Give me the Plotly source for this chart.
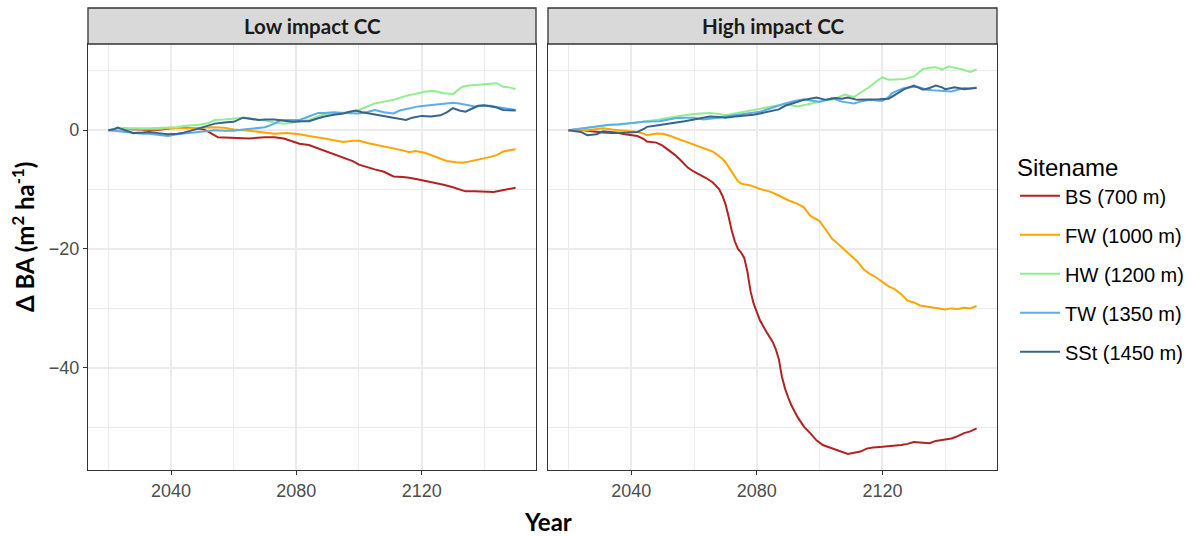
import plotly.graph_objects as go

# ---------------- data ----------------
site_names = ["BS (700 m)", "FW (1000 m)", "HW (1200 m)", "TW (1350 m)", "SSt (1450 m)"]
site_colors = ["#B22222", "#FFA500", "#90EE90", "#5CACEE", "#36648B"]
panel_titles = ["Low impact CC", "High impact CC"]
x_tick_vals = [2040, 2080, 2120]
x_tick_text = ["2040", "2080", "2120"]
y_tick_vals = [0, -20, -40]
y_tick_text = ["0", "\u221220", "\u221240"]

# Low impact CC
low_bs_years = [2020, 2025, 2030, 2035, 2040, 2045, 2050, 2052, 2055, 2060, 2065, 2070, 2073, 2076, 2079, 2081,
                2084, 2087, 2089, 2092, 2095, 2098, 2100, 2103, 2105, 2108, 2111, 2114, 2116, 2119, 2121, 2124,
                2127, 2130, 2132, 2134, 2137, 2140, 2143, 2145, 2147, 2150]
low_bs_vals = [0, 0.2, 0.1, 0.0, 0.3, 0.4, 0.2, -0.3, -1.2, -1.3, -1.4, -1.2, -1.2, -1.4, -1.9, -2.3,
               -2.5, -3.1, -3.4, -4.0, -4.6, -5.2, -5.8, -6.3, -6.6, -7.0, -7.8, -7.9, -8.0, -8.3, -8.5, -8.8,
               -9.2, -9.6, -9.9, -10.3, -10.3, -10.3, -10.4, -10.2, -10.0, -9.7]

low_fw_years = [2020, 2025, 2030, 2035, 2040, 2045, 2050, 2053, 2057, 2060, 2065, 2070, 2073, 2077, 2081, 2084,
                2087, 2089, 2092, 2095, 2098, 2100, 2103, 2105, 2108, 2111, 2114, 2116, 2118, 2121, 2123, 2126,
                2128, 2131, 2133, 2135, 2137, 2140, 2142, 2144, 2146, 2148, 2150]
low_fw_vals = [0, 0.3, 0.2, 0.1, 0.4, 0.3, 0.4, 0.5, 0.4, 0.1, -0.1, -0.4, -0.6, -0.5, -0.7, -1.0,
               -1.2, -1.4, -1.7, -2.0, -1.8, -1.8, -2.2, -2.4, -2.7, -3.1, -3.4, -3.7, -3.5, -3.8, -4.2, -4.7,
               -5.2, -5.4, -5.5, -5.3, -5.1, -4.8, -4.5, -4.2, -3.6, -3.4, -3.2]

low_hw_years = [2020, 2024, 2028, 2033, 2036, 2039, 2042, 2044, 2047, 2049, 2052, 2054, 2057, 2060, 2063, 2065,
                2068, 2070, 2073, 2076, 2079, 2081, 2084, 2087, 2089, 2092, 2095, 2098, 2100, 2103, 2105, 2108,
                2111, 2114, 2116, 2119, 2121, 2124, 2127, 2130, 2133, 2135, 2137, 2140, 2142, 2144, 2146, 2148,
                2150]
low_hw_vals = [0, 0.2, 0.3, 0.3, 0.4, 0.45, 0.5, 0.7, 0.8, 0.9, 1.2, 1.7, 1.8, 1.9, 2.1, 2.0,
               1.8, 1.6, 1.3, 1.1, 1.3, 1.4, 1.7, 2.3, 2.7, 2.8, 2.9, 3.1, 3.4, 4.1, 4.5, 4.8,
               5.1, 5.6, 5.9, 6.2, 6.5, 6.6, 6.2, 6.1, 7.3, 7.5, 7.6, 7.7, 7.8, 7.9, 7.3, 7.2,
               6.9]

low_tw_years = [2020, 2024, 2028, 2031, 2033, 2036, 2039, 2042, 2044, 2047, 2049, 2052, 2054, 2057, 2060, 2063,
                2065, 2068, 2070, 2073, 2075, 2078, 2081, 2084, 2087, 2089, 2092, 2095, 2098, 2100, 2103, 2105,
                2108, 2111, 2113, 2116, 2119, 2121, 2124, 2127, 2130, 2132, 2135, 2137, 2140, 2142, 2144, 2146,
                2148, 2150]
low_tw_vals = [0, -0.2, -0.5, -0.6, -0.6, -0.8, -1.0, -0.7, -0.6, -0.4, -0.3, -0.1, 0.0, -0.1, -0.1, 0.1,
               0.2, 0.4, 0.5, 1.1, 1.7, 1.7, 1.7, 2.3, 2.9, 2.9, 3.0, 2.9, 2.8, 2.8, 3.1, 3.4,
               3.0, 2.8, 3.3, 3.7, 4.0, 4.1, 4.3, 4.5, 4.6, 4.5, 4.2, 4.0, 4.1, 4.1, 3.9, 3.7,
               3.5, 3.4]

low_sst_years = [2020, 2022, 2023, 2025, 2028, 2031, 2033, 2036, 2039, 2042, 2044, 2047, 2049, 2052, 2054, 2057,
                 2060, 2063, 2065, 2068, 2070, 2073, 2076, 2079, 2081, 2084, 2087, 2089, 2092, 2095, 2097, 2099,
                 2101, 2103, 2106, 2108, 2111, 2113, 2115, 2117, 2120, 2123, 2126, 2128, 2130, 2132, 2134, 2136,
                 2138, 2140, 2142, 2144, 2146, 2148, 2150]
low_sst_vals = [0, 0.2, 0.45, 0.1, -0.5, -0.4, -0.3, -0.5, -0.7, -0.6, -0.45, 0.0, 0.3, 0.7, 1.1, 1.3,
                1.4, 2.1, 1.9, 1.7, 1.8, 1.8, 1.6, 1.4, 1.5, 1.5, 2.0, 2.3, 2.6, 2.8, 3.1, 3.3,
                3.0, 2.8, 2.5, 2.3, 2.1, 1.9, 1.7, 2.1, 2.4, 2.3, 2.5, 3.0, 3.7, 3.3, 3.1, 3.6,
                4.1, 4.2, 4.0, 3.8, 3.4, 3.4, 3.3]

# High impact CC
high_bs_years = [2020, 2023, 2026, 2029, 2031, 2034, 2036, 2038, 2040, 2042, 2044, 2045, 2048, 2050, 2052, 2054,
                 2056, 2058, 2060, 2062, 2064, 2066, 2068, 2069, 2070, 2071, 2072, 2073, 2074, 2075, 2076, 2077,
                 2078, 2079, 2080, 2081, 2083, 2085, 2086, 2087, 2088, 2089, 2090, 2091, 2093, 2095, 2097, 2099,
                 2101, 2103, 2105, 2107, 2109, 2111, 2113, 2115, 2117, 2120, 2123, 2126, 2128, 2130, 2133, 2135,
                 2137, 2139, 2142, 2144, 2146, 2148, 2150]
high_bs_vals = [0, 0.1, -0.1, -0.3, -0.4, -0.5, -0.5, -0.7, -0.8, -1.0, -1.5, -1.9, -2.1, -2.6, -3.4, -4.2,
                -5.2, -6.3, -7.0, -7.5, -8.1, -8.8, -9.9, -11.0, -12.4, -14.5, -16.9, -18.7, -20.0, -20.6, -21.5, -23.8,
                -27.1, -29.2, -30.8, -32.0, -33.9, -35.6, -36.8, -38.5, -41.5, -43.5, -45.0, -46.3, -48.3, -49.9, -51.0, -52.2,
                -53.0, -53.4, -53.7, -54.2, -54.5, -54.3, -54.1, -53.6, -53.4, -53.3, -53.2, -53.0, -52.8, -52.5, -52.6, -52.7,
                -52.3, -52.1, -51.9, -51.5, -51.0, -50.7, -50.2]

high_fw_years = [2020, 2023, 2026, 2029, 2031, 2034, 2036, 2039, 2042, 2044, 2045, 2048, 2050, 2052, 2054, 2056,
                 2058, 2060, 2062, 2064, 2066, 2067, 2069, 2070, 2071, 2072, 2074, 2075, 2078, 2081, 2084, 2087,
                 2090, 2093, 2095, 2097, 2100, 2102, 2104, 2106, 2108, 2110, 2112, 2114, 2116, 2118, 2120, 2122,
                 2124, 2126, 2128, 2130, 2132, 2134, 2136, 2138, 2140, 2142, 2144, 2146, 2148, 2150]
high_fw_vals = [0, 0.1, 0.0, 0.2, 0.3, 0.1, 0.0, -0.1, -0.3, -0.6, -0.85, -0.55, -0.6, -0.9, -1.3, -1.7,
                -2.1, -2.5, -2.8, -3.3, -3.6, -4.0, -4.8, -5.4, -6.2, -7.0, -8.6, -9.0, -9.3, -9.9, -10.3, -11.0,
                -11.8, -12.4, -13.0, -14.4, -15.3, -16.8, -18.3, -19.2, -20.2, -21.2, -22.1, -23.4, -24.2, -24.8, -25.6, -26.3,
                -26.8, -27.6, -28.7, -29.0, -29.5, -29.7, -29.8, -30.0, -30.2, -30.0, -30.1, -29.9, -30.0, -29.6]

high_hw_years = [2020, 2024, 2028, 2031, 2033, 2036, 2039, 2042, 2044, 2047, 2049, 2052, 2054, 2057, 2060, 2063,
                 2065, 2068, 2070, 2073, 2076, 2079, 2081, 2084, 2087, 2089, 2091, 2093, 2096, 2099, 2101, 2104,
                 2106, 2108, 2110, 2111, 2113, 2116, 2118, 2120, 2122, 2125, 2127, 2130, 2133, 2135, 2137, 2139,
                 2141, 2143, 2145, 2148, 2150]
high_hw_vals = [0, 0.3, 0.55, 0.7, 0.85, 0.9, 1.1, 1.3, 1.4, 1.6, 1.8, 2.1, 2.3, 2.5, 2.7, 2.8,
                2.9, 2.7, 2.5, 2.8, 3.1, 3.4, 3.7, 3.9, 4.2, 4.4, 4.2, 4.0, 4.3, 4.7, 4.9, 5.1,
                5.5, 6.0, 5.7, 5.6, 6.3, 7.3, 8.2, 8.9, 8.5, 8.6, 8.6, 9.0, 10.3, 10.5, 10.6, 10.2,
                10.7, 10.5, 10.3, 9.8, 10.2]

high_tw_years = [2020, 2024, 2028, 2031, 2033, 2036, 2039, 2042, 2044, 2047, 2049, 2052, 2054, 2057, 2060, 2063,
                 2065, 2068, 2070, 2073, 2076, 2079, 2081, 2084, 2087, 2089, 2092, 2095, 2097, 2100, 2102, 2104,
                 2107, 2109, 2111, 2113, 2116, 2118, 2120, 2122, 2123, 2125, 2127, 2129, 2131, 2133, 2134, 2136,
                 2138, 2140, 2142, 2144, 2146, 2148, 2150]
high_tw_vals = [0, 0.3, 0.6, 0.8, 0.9, 1.0, 1.2, 1.3, 1.4, 1.5, 1.5, 1.8, 2.0, 2.1, 2.1, 1.8,
                1.9, 2.1, 2.3, 2.5, 2.7, 2.9, 3.1, 3.6, 4.2, 4.5, 4.9, 5.2, 5.0, 4.8, 5.1, 5.4,
                4.8, 4.7, 4.5, 4.8, 5.1, 5.0, 4.9, 5.6, 6.2, 6.7, 7.1, 7.2, 7.3, 7.0, 6.8, 6.7,
                6.6, 6.6, 6.5, 6.8, 7.1, 7.0, 7.2]

high_sst_years = [2020, 2022, 2024, 2026, 2029, 2031, 2033, 2036, 2039, 2042, 2044, 2045, 2047, 2049, 2052, 2054,
                  2057, 2060, 2063, 2065, 2068, 2070, 2073, 2076, 2079, 2081, 2084, 2087, 2089, 2092, 2095, 2097,
                  2099, 2102, 2105, 2107, 2109, 2112, 2114, 2116, 2119, 2122, 2124, 2127, 2130, 2131, 2133, 2135,
                  2137, 2139, 2140, 2142, 2143, 2145, 2146, 2148, 2150]
high_sst_vals = [0, -0.1, -0.3, -0.85, -0.7, -0.2, -0.3, -0.45, -0.4, -0.3, 0.2, 0.55, 0.7, 0.85, 1.0, 1.2,
                 1.5, 1.8, 2.1, 2.3, 2.2, 2.1, 2.3, 2.4, 2.6, 2.8, 3.1, 3.5, 4.1, 4.6, 5.1, 5.3,
                 5.5, 5.1, 5.4, 5.3, 5.5, 5.1, 5.1, 5.1, 5.2, 5.3, 6.0, 6.9, 7.5, 7.3, 6.8, 7.1,
                 7.5, 7.2, 6.9, 7.1, 7.2, 7.0, 6.9, 7.0, 7.1]

low_years = [low_bs_years, low_fw_years, low_hw_years, low_tw_years, low_sst_years]
low_vals = [low_bs_vals, low_fw_vals, low_hw_vals, low_tw_vals, low_sst_vals]
high_years = [high_bs_years, high_fw_years, high_hw_years, high_tw_years, high_sst_years]
high_vals = [high_bs_vals, high_fw_vals, high_hw_vals, high_tw_vals, high_sst_vals]

# ---------------- layout geometry (pixels) ----------------
W, H = 1192, 536
PX_L = (88, 536)
PX_R = (548, 997)
PY_TOP, PY_BOT = 44, 470
STRIP_TOP = 8

def px(x):
    return x / W

def py(y):
    return 1 - y / H

fig = go.Figure()

for i in range(5):
    fig.add_trace(go.Scatter(x=low_years[i], y=low_vals[i], mode="lines", name=site_names[i],
                             line=dict(color=site_colors[i], width=2), legendgroup=site_names[i],
                             showlegend=True, xaxis="x", yaxis="y"))
for i in range(5):
    fig.add_trace(go.Scatter(x=high_years[i], y=high_vals[i], mode="lines", name=site_names[i],
                             line=dict(color=site_colors[i], width=2), legendgroup=site_names[i],
                             showlegend=False, xaxis="x2", yaxis="y2"))

GRID = "#EBEBEB"
DARK = "#333333"
TICKFONT = dict(family="Liberation Sans, Arial, sans-serif", size=18, color="#4D4D4D")

def xaxis_def(domain, anchor):
    return dict(domain=domain, anchor=anchor, range=[2013.5, 2156.5],
                tickmode="array", tickvals=x_tick_vals, ticktext=x_tick_text,
                showgrid=True, gridcolor=GRID, gridwidth=1.5,
                minor=dict(tickmode="array", tickvals=[2020, 2060, 2100, 2140], showgrid=True,
                           gridcolor=GRID, gridwidth=0.8, ticks=""),
                ticks="outside", ticklen=4, tickwidth=1.3, tickcolor=DARK,
                showline=True, mirror=True, linecolor=DARK, linewidth=1.3,
                zeroline=False, tickfont=TICKFONT, fixedrange=True)

def yaxis_def(anchor, labels):
    d = dict(domain=[py(PY_BOT), py(PY_TOP)], anchor=anchor, range=[-57.2, 14.5],
             tickmode="array", tickvals=y_tick_vals, ticktext=y_tick_text,
             showgrid=True, gridcolor=GRID, gridwidth=1.5,
             minor=dict(tickmode="array", tickvals=[10, -10, -30, -50], showgrid=True,
                        gridcolor=GRID, gridwidth=0.8, ticks=""),
             showline=True, mirror=True, linecolor=DARK, linewidth=1.3,
             zeroline=False, tickfont=TICKFONT, fixedrange=True)
    if labels:
        d.update(ticks="outside", ticklen=4, tickwidth=1.3, tickcolor=DARK, showticklabels=True)
    else:
        d.update(ticks="", showticklabels=False)
    return d

TITLEFONT = dict(family="Lato, Carlito, sans-serif", size=24, color="#000000")
STRIPFONT = dict(family="Lato, sans-serif", size=20.5, color="#1A1A1A")

annotations = [
    dict(text="<b>%s</b>" % panel_titles[0], x=px((PX_L[0] + PX_L[1]) / 2), y=py((STRIP_TOP + PY_TOP) / 2),
         xref="paper", yref="paper", showarrow=False, xanchor="center", yanchor="middle", font=STRIPFONT),
    dict(text="<b>%s</b>" % panel_titles[1], x=px((PX_R[0] + PX_R[1]) / 2), y=py((STRIP_TOP + PY_TOP) / 2),
         xref="paper", yref="paper", showarrow=False, xanchor="center", yanchor="middle", font=STRIPFONT),
    dict(text="<b>Year</b>", x=px(548), y=py(521), xref="paper", yref="paper", showarrow=False,
         xanchor="center", yanchor="middle", font=TITLEFONT),
    dict(text="<b>\u0394 BA (m<sup>2</sup> ha<sup>-1</sup>)</b>", x=px(23), y=py(237), xref="paper", yref="paper",
         showarrow=False, xanchor="center", yanchor="middle", textangle=-90, font=TITLEFONT),
]

shapes = [
    dict(type="rect", xref="paper", yref="paper", x0=px(PX_L[0]), x1=px(PX_L[1]), y0=py(PY_TOP), y1=py(STRIP_TOP),
         fillcolor="#D9D9D9", line=dict(color=DARK, width=1.3)),
    dict(type="rect", xref="paper", yref="paper", x0=px(PX_R[0]), x1=px(PX_R[1]), y0=py(PY_TOP), y1=py(STRIP_TOP),
         fillcolor="#D9D9D9", line=dict(color=DARK, width=1.3)),
]

fig.update_layout(
    width=W, height=H, margin=dict(l=0, r=0, t=0, b=0),
    paper_bgcolor="white", plot_bgcolor="white",
    xaxis=xaxis_def([px(PX_L[0]), px(PX_L[1])], "y"),
    yaxis=yaxis_def("x", True),
    xaxis2=xaxis_def([px(PX_R[0]), px(PX_R[1])], "y2"),
    yaxis2=yaxis_def("x2", False),
    annotations=annotations, shapes=shapes,
    legend=dict(x=px(1015), y=py(145), xanchor="left", yanchor="top", itemwidth=40,
                title=dict(text="Sitename", font=dict(family="Liberation Sans, Arial, sans-serif", size=24, color="#000000")),
                font=dict(family="Liberation Sans, Arial, sans-serif", size=20, color="#000000"),
                tracegroupgap=10, bgcolor="rgba(0,0,0,0)"),
    showlegend=True,
)

fig.write_html("out.html")
